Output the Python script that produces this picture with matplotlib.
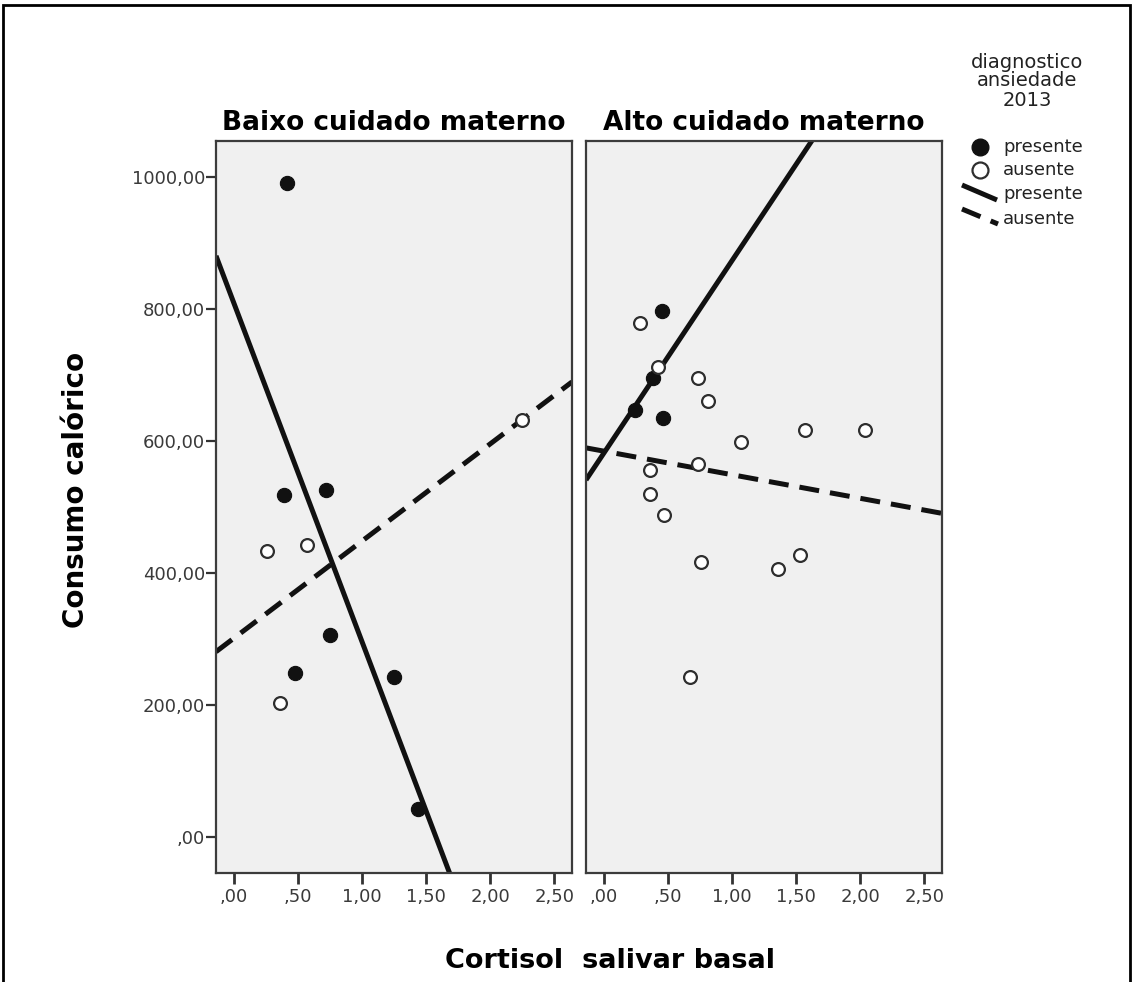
import numpy as np
import matplotlib
matplotlib.use("Agg")
import matplotlib.pyplot as plt
from matplotlib.lines import Line2D
from matplotlib.patches import Rectangle

# Cortisol salivar basal (x) vs consumo calórico (y), by maternal care group
panel_titles = ["Baixo cuidado materno", "Alto cuidado materno"]

baixo_presente_x = [0.41, 0.39, 0.72, 0.75, 0.475, 1.246, 1.436]
baixo_presente_y = [991, 518, 526, 307, 248, 243, 43]
baixo_ausente_x = [0.26, 0.57, 0.36, 2.25]
baixo_ausente_y = [434, 443, 204, 631]

alto_presente_x = [0.45, 0.38, 0.24, 0.46]
alto_presente_y = [797, 695, 647, 634]
alto_ausente_x = [0.28, 0.42, 0.73, 0.81, 1.07, 1.57, 2.04, 0.73, 0.36, 0.36,
                  0.47, 0.76, 1.36, 1.53, 0.67]
alto_ausente_y = [778, 712, 695, 660, 598, 617, 617, 565, 556, 519,
                  488, 417, 406, 428, 242]

x_ticks = [0.0, 0.5, 1.0, 1.5, 2.0, 2.5]
x_ticklabels = [",00", ",50", "1,00", "1,50", "2,00", "2,50"]
y_ticks = [0, 200, 400, 600, 800, 1000]
y_ticklabels = [",00", "200,00", "400,00", "600,00", "800,00", "1000,00"]

legend_title = ["diagnostico", "ansiedade", "2013"]
legend_labels = ["presente", "ausente", "presente", "ausente"]

W, H = 1133, 982
fig = plt.figure(figsize=(W / 100, H / 100), dpi=100)
fig.patch.set_facecolor("white")

BOLD_FAMILY = ["DejaVu Sans"]
INK = "#111111"
TICK_COLOR = "#3a3a3a"


def fx(px):
    return px / W


def fy(py):
    return 1 - py / H


XLIM = (-0.14, 2.637)
YLIM = (-54, 1054)

panels = [
    (216, baixo_presente_x, baixo_presente_y, baixo_ausente_x, baixo_ausente_y),
    (586, alto_presente_x, alto_presente_y, alto_ausente_x, alto_ausente_y),
]

for i, (left_px, px_, py_, ax_, ay_) in enumerate(panels):
    ax = fig.add_axes([fx(left_px), fy(873), 356 / W, 732 / H])
    ax.set_facecolor("#f0f0f0")
    ax.set_xlim(*XLIM)
    ax.set_ylim(*YLIM)
    for sp in ax.spines.values():
        sp.set_color("#3c3c3c")
        sp.set_linewidth(1.6)

    # least-squares fit lines per diagnostic group
    grid = np.linspace(XLIM[0], XLIM[1], 50)
    b1, b0 = np.polyfit(px_, py_, 1)
    ax.plot(grid, b0 + b1 * grid, color=INK, lw=3.6, solid_capstyle="butt", zorder=2)
    a1, a0 = np.polyfit(ax_, ay_, 1)
    ax.plot(grid, a0 + a1 * grid, color=INK, lw=3.6, dashes=(4, 2.2),
            dash_capstyle="butt", zorder=2)

    ax.scatter(px_, py_, s=105, color=INK, edgecolors=INK, linewidths=0.8, zorder=3)
    ax.scatter(ax_, ay_, s=85, facecolors="white", edgecolors="#2e2e2e",
               linewidths=1.6, zorder=3)

    ax.set_xticks(x_ticks)
    ax.set_xticklabels(x_ticklabels)
    ax.set_yticks(y_ticks)
    if i == 0:
        ax.set_yticklabels(y_ticklabels)
        ax.tick_params(axis="y", length=7, width=1.6, color="#333333",
                       labelsize=13, labelcolor=TICK_COLOR, pad=1)
    else:
        ax.tick_params(axis="y", left=False, labelleft=False)
    ax.tick_params(axis="x", length=8, width=2, color="#333333",
                   labelsize=13, labelcolor=TICK_COLOR, pad=3)
    for lab in ax.get_xticklabels() + ax.get_yticklabels():
        lab.set_family("DejaVu Sans")

    ax.set_title(panel_titles[i], family=BOLD_FAMILY, fontweight="bold",
                 fontsize=19, color="black", pad=8)

# axis titles
fig.text(fx(76), fy(490), "Consumo calórico", rotation=90, ha="center",
         va="center", family=BOLD_FAMILY, fontweight="bold", fontsize=20)
fig.text(fx(610), fy(961), "Cortisol  salivar basal", ha="center", va="center",
         family=BOLD_FAMILY, fontweight="bold", fontsize=19.5)

# legend
for txt, ypx in zip(legend_title, [62, 81, 100]):
    fig.text(fx(1027), fy(ypx), txt, ha="center", va="center",
             family="DejaVu Sans", fontsize=14, color="#222222")

legend_rows = [147, 170, 194, 219]
for lab, ypx in zip(legend_labels, legend_rows):
    fig.text(fx(1003), fy(ypx), lab, ha="left", va="center",
             family="DejaVu Sans", fontsize=13, color="#222222")

fig.add_artist(Line2D([fx(980)], [fy(147)], marker="o", markersize=12,
                      color=INK, transform=fig.transFigure))
fig.add_artist(Line2D([fx(980)], [fy(170)], marker="o", markersize=11.5,
                      markerfacecolor="white", markeredgecolor="#2e2e2e",
                      markeredgewidth=1.6, linestyle="none",
                      transform=fig.transFigure))
fig.add_artist(Line2D([fx(962), fx(997)], [fy(185), fy(200)], lw=3.6,
                      color=INK, solid_capstyle="butt",
                      transform=fig.transFigure))
fig.add_artist(Line2D([fx(962), fx(998)], [fy(209), fy(224)], lw=3.6,
                      color=INK, dashes=(4, 2.2), dash_capstyle="butt",
                      transform=fig.transFigure))

# outer frame
fig.add_artist(Rectangle((fx(3), fy(1000)), fx(1127), (1000 - 5) / H,
                         fill=False, edgecolor="black", lw=2,
                         transform=fig.transFigure))

fig.savefig("out.png", dpi=100, facecolor="white")
